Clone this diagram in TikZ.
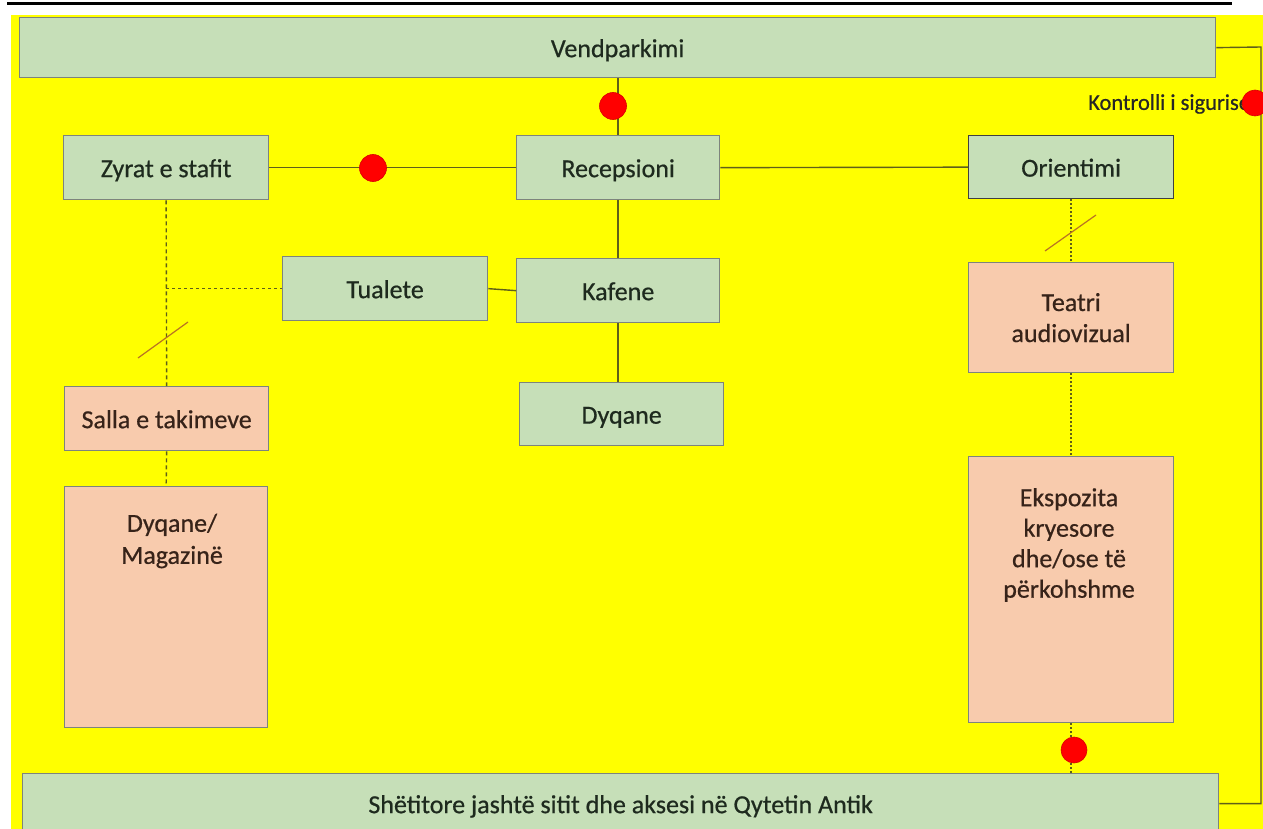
\documentclass[tikz,border=0pt]{standalone}
\usepackage{fontspec}
\setmainfont{Carlito}
\newfontfamily\semib[FakeBold=0.6]{Carlito}
\definecolor{bgyellow}{RGB}{255,255,0}
\definecolor{gfill}{RGB}{198,223,184}
\definecolor{pfill}{RGB}{248,203,173}
\definecolor{bordergray}{RGB}{125,132,125}
\definecolor{linecol}{RGB}{95,95,25}
\definecolor{slashcol}{RGB}{185,115,35}
\definecolor{gtext}{RGB}{30,42,30}
\definecolor{ptext}{RGB}{55,35,25}
\begin{document}
\begin{tikzpicture}[x=1pt,y=-1pt,
  boxbase/.style={draw=bordergray,line width=1.3pt,inner sep=0pt,anchor=north west,
    font=\semib\fontsize{26}{31}\selectfont,align=center},
  one/.style={text height=19pt,text depth=0pt},
  gbox/.style={boxbase,fill=gfill,text=gtext},
  pbox/.style={boxbase,fill=pfill,text=ptext},
  lbl/.style={inner sep=0pt,font=\semib\fontsize{26}{31}\selectfont,align=center,text=ptext},
  conn/.style={draw=linecol,line width=1.4pt},
  dashconn/.style={draw=linecol,line width=1.4pt,dash pattern=on 4pt off 3pt},
  dotconn/.style={draw=linecol,line width=1.4pt,dash pattern=on 1.5pt off 2.5pt},
  slashmark/.style={draw=slashcol,line width=1.2pt},
  reddot/.style={circle,fill=red,draw=red!85!black,line width=0.6pt,inner sep=0pt,minimum size=27pt}
]
\useasboundingbox (0,0) rectangle (1263,829);
\clip (0,0) rectangle (1263,829);
\fill[white] (0,0) rectangle (1263,829);
\fill[bgyellow] (11,15) rectangle (1263,829);
\draw[line width=3pt] (7,3.5) -- (1232,3.5);

% boxes
\node[gbox,one,minimum width=1196pt,minimum height=60pt] (park) at (19,17) {Vendparkimi};
\node[gbox,one,minimum width=205pt,minimum height=64pt] (zyr) at (63,135) {Zyrat e stafit};
\node[gbox,one,minimum width=203pt,minimum height=64pt] (rec) at (516,135) {Recepsioni};
\node[gbox,one,draw=black!75,minimum width=205pt,minimum height=63pt] (ori) at (968,135) {Orientimi};
\node[gbox,one,minimum width=205pt,minimum height=64pt] (tua) at (282,256) {Tualete};
\node[gbox,one,minimum width=203pt,minimum height=64pt] (kaf) at (516,258) {Kafene};
\node[gbox,one,minimum width=204pt,minimum height=63pt] (dyq) at (519,382) {Dyqane};
\node[pbox,one,minimum width=204pt,minimum height=64pt] (sal) at (64,386) {Salla e takimeve};
\node[pbox,minimum width=203pt,minimum height=241pt] (mag) at (64,486) {};
\node[lbl,font=\semib\fontsize{26}{32}\selectfont] (magt) at (172,541) {Dyqane/\\Magazinë};
\node[pbox,minimum width=205pt,minimum height=110pt] (tea) at (968,262) {Teatri\\audiovizual};
\node[pbox,minimum width=205pt,minimum height=266pt] (eks) at (968,456) {};
\node[lbl,font=\semib\fontsize{26}{30.5}\selectfont] (ekst) at (1069,545) {Ekspozita\\kryesore\\dhe/ose të\\përkohshme};
\node[gbox,one,minimum width=1196pt,minimum height=60pt] (bot) at (22,773) {Shëtitore jashtë sitit dhe aksesi në Qytetin Antik};

% connectors
\draw[conn] (rec.north) -- (rec.north |- park.south);
\draw[conn] (zyr.east) -- (rec.west);
\draw[conn] (rec.east) -- (ori.west);
\draw[conn] (rec.south) -- (rec.south |- kaf.north);
\draw[conn] (kaf.south) -- (kaf.south |- dyq.north);
\draw[conn] (tua.east) -- (kaf.west);
\draw[dashconn] (zyr.south) -- (sal.north);
\coordinate (j1) at (tua.west -| zyr.south);
\draw[dashconn,dash pattern=on 3pt off 3pt] (j1) -- (tua.west);
\draw[dashconn] (sal.south) -- (mag.north);
\draw[dotconn] (ori.south) -- (ori.south |- tea.north);
\draw[dotconn] (tea.south) -- (tea.south |- eks.north);
\draw[dotconn] (eks.south) -- (eks.south |- bot.north);
\coordinate (c1) at (1261,47);
\draw[conn] (park.east) -- (c1) |- (bot.east);

% slashes
\coordinate (s1a) at (138,358); \coordinate (s1b) at (188,322);
\draw[slashmark] (s1a) -- (s1b);
\coordinate (s2a) at (1045,251); \coordinate (s2b) at (1096,215);
\draw[slashmark] (s2a) -- (s2b);

% security label and dots
\node[inner sep=0pt,anchor=west,font=\semib\fontsize{22.5}{27}\selectfont,text=black!85] (kon) at (1088,104) {Kontrolli i sigurise};
\node[reddot] (d1) at (613,106) {};
\node[reddot] (d2) at (373,168) {};
\node[reddot,minimum size=26pt] (d3) at (1074,750) {};
\node[reddot,minimum size=26pt] (d4) at (1255,103) {};
\end{tikzpicture}
\end{document}
